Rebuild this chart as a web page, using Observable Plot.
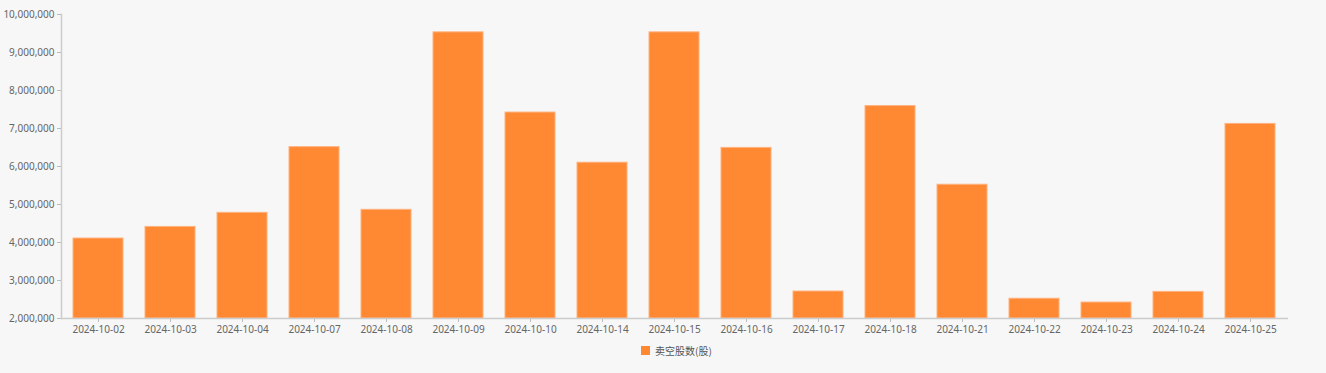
<!DOCTYPE html>
<html>
<head>
<meta charset="utf-8">
<script src="https://cdn.jsdelivr.net/npm/d3@7"></script>
<script src="https://cdn.jsdelivr.net/npm/@observablehq/plot@0.6"></script>
<style>
  html, body { margin: 0; padding: 0; background: #f7f7f7; }
  #wrap { position: relative; width: 1326px; height: 373px; overflow: hidden; font-family: "Noto Sans", "Noto Sans CJK SC", sans-serif; }
  #legend { position: absolute; left: 641px; top: 343px; font-size: 10px; color: #555; display: flex; align-items: center; font-family: "Noto Sans CJK SC", "Noto Sans", sans-serif; }
  #legend .sw { width: 9px; height: 9px; background: #ff8833; margin-right: 5px; }
</style>
</head>
<body>
<div id="wrap"><div id="chart"></div><div id="legend"></div></div>
<script>
const dates = ["2024-10-02","2024-10-03","2024-10-04","2024-10-07","2024-10-08","2024-10-09","2024-10-10","2024-10-14","2024-10-15","2024-10-16","2024-10-17","2024-10-18","2024-10-21","2024-10-22","2024-10-23","2024-10-24","2024-10-25"];
const shortShares = [4105000, 4410000, 4780000, 6510000, 4860000, 9530000, 7420000, 6100000, 9530000, 6490000, 2710000, 7590000, 5520000, 2520000, 2420000, 2700000, 7120000];
const yTicks = [2000000, 3000000, 4000000, 5000000, 6000000, 7000000, 8000000, 9000000, 10000000];
const seriesName = "卖空股数(股)";
const barColor = "#ff8833";

const data = dates.map((d, i) => ({date: d, value: shortShares[i]}));
const base = yTicks[0];

const chart = Plot.plot({
  width: 1326,
  height: 340,
  marginLeft: 61,
  marginRight: 38,
  marginTop: 14,
  marginBottom: 22,
  style: {background: "transparent", fontFamily: "Noto Sans, sans-serif", fontSize: "10px", color: "#666"},
  x: {domain: dates, paddingInner: 0.3, paddingOuter: 0.15, label: null},
  y: {domain: [yTicks[0], yTicks[yTicks.length - 1]], label: null},
  marks: [
    Plot.barY(data, {x: "date", y1: () => base, y2: "value", fill: barColor, stroke: "#ffb27f", strokeWidth: 1}),
    Plot.axisX({tickSize: 4, tickPadding: 3, stroke: "#bbb", fill: "#666", fontSize: 10}),
    Plot.axisY({ticks: yTicks, tickSize: 4, tickPadding: 3, tickFormat: d3.format(","), stroke: "#bbb", fill: "#666", fontSize: 10}),
    Plot.ruleY([base], {stroke: "#ccc", strokeWidth: 1.5}),
    Plot.frame({anchor: "left", stroke: "#ccc", strokeWidth: 1.5})
  ]
});
document.getElementById("chart").appendChild(chart);

const lg = document.getElementById("legend");
const sw = document.createElement("span"); sw.className = "sw";
const tx = document.createElement("span"); tx.textContent = seriesName;
lg.appendChild(sw); lg.appendChild(tx);
</script>
</body>
</html>
